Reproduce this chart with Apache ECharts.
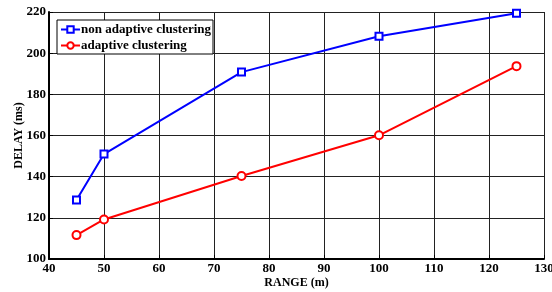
<!DOCTYPE html>
<html><head><meta charset="utf-8">
<script src="https://cdn.jsdelivr.net/npm/echarts@6/dist/echarts.min.js"></script>
<style>html,body{margin:0;padding:0;background:#fff}#c{width:552px;height:292px}</style>
</head><body><div id="c"></div>
<script>
const ranges = [45, 50, 75, 100, 125];
const nonAdaptive = [128.7, 151, 190.8, 208.2, 219.4];
const adaptive = [111.6, 119.2, 140.3, 160.1, 193.7];
const seriesNames = ['non adaptive clustering', 'adaptive clustering'];
const xName = 'RANGE (m)';
const yName = 'DELAY (ms)';

const font = '"Liberation Serif", "Times New Roman", serif';
const chart = echarts.init(document.getElementById('c'));
const pair = (xs, ys) => xs.map((x, i) => [x, ys[i]]);
chart.setOption({
  animation: false,
  grid: { left: 49, right: 8, top: 12, bottom: 33, outerBoundsMode: 'none', containLabel: false },
  legend: {
    left: 57, top: 20, orient: 'vertical',
    borderColor: '#000', borderWidth: 1, backgroundColor: '#fff',
    padding: [3, 2, 2, 3], itemGap: 3, itemWidth: 19, itemHeight: 8,
    textStyle: { fontFamily: font, fontWeight: 'bold', fontSize: 13, color: '#000', padding: [0,0,0,-4] },
    data: seriesNames
  },
  xAxis: {
    type: 'value', min: 40, max: 130, interval: 10,
    name: xName, nameLocation: 'middle', nameGap: 18, nameMoveOverlap: false,
    nameTextStyle: { fontFamily: font, fontWeight: 'bold', fontSize: 12, color: '#000' },
    axisLine: { lineStyle: { color: '#000', width: 2 } },
    axisTick: { inside: true, length: 4, lineStyle: { color: '#000' } },
    axisLabel: { fontFamily: font, fontWeight: 'bold', fontSize: 13, color: '#000', margin: 3 },
    splitLine: { lineStyle: { color: '#222', width: 1 } }
  },
  yAxis: {
    type: 'value', min: 100, max: 220, interval: 20,
    name: yName, nameLocation: 'middle', nameGap: 24, nameMoveOverlap: false,
    nameTextStyle: { fontFamily: font, fontWeight: 'bold', fontSize: 12, color: '#000' },
    axisLine: { show: true, lineStyle: { color: '#000', width: 2 } },
    axisTick: { show: true, inside: true, length: 4, lineStyle: { color: '#000' } },
    axisLabel: { fontFamily: font, fontWeight: 'bold', fontSize: 13, color: '#000', margin: 3 },
    splitLine: { lineStyle: { color: '#222', width: 1 } }
  },
  series: [
    {
      name: seriesNames[0], type: 'line', data: pair(ranges, nonAdaptive),
      symbol: 'rect', symbolSize: 7, showAllSymbol: true,
      lineStyle: { color: '#0000ff', width: 2 },
      itemStyle: { color: '#fff', borderColor: '#0000ff', borderWidth: 2 }
    },
    {
      name: seriesNames[1], type: 'line', data: pair(ranges, adaptive),
      symbol: 'circle', symbolSize: 8, showAllSymbol: true,
      lineStyle: { color: '#ff0000', width: 2 },
      itemStyle: { color: '#fff', borderColor: '#ff0000', borderWidth: 2 }
    }
  ]
});
</script></body></html>
